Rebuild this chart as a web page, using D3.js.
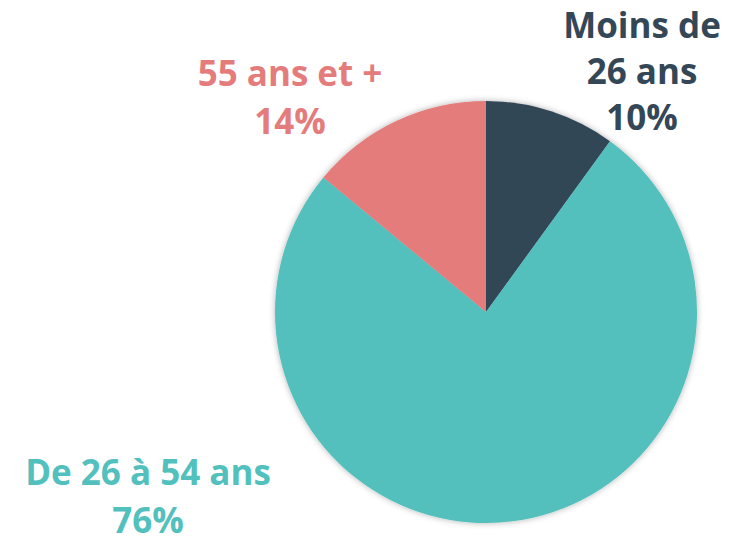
<!DOCTYPE html>
<html>
<head>
<meta charset="utf-8">
<script src="https://cdn.jsdelivr.net/npm/d3@7"></script>
<style>
  html, body { margin: 0; padding: 0; background: #fff; }
  svg { display: block; }
</style>
</head>
<body>
<svg id="chart" width="730" height="537"></svg>
<script>
const categories = ["Moins de 26 ans", "De 26 à 54 ans", "55 ans et +"];
const values = [10, 76, 14];
const colors = ["#334756", "#52C0BD", "#E57C7C"];
const labelLines = [["Moins de", "26 ans", "10%"], ["De 26 à 54 ans", "76%"], ["55 ans et +", "14%"]];
// label anchor (center x, first baseline y, line gap)
const labelPos = [[642, 38, 46], [148, 485, 48], [290, 86, 48]];

const svg = d3.select("#chart");
const cx = 486, cy = 312, r = 211;

const defs = svg.append("defs");
const f = defs.append("filter").attr("id", "shadow")
  .attr("x", "-20%").attr("y", "-20%").attr("width", "140%").attr("height", "140%");
f.append("feDropShadow").attr("dx", 0).attr("dy", 0).attr("stdDeviation", 3)
  .attr("flood-color", "#000").attr("flood-opacity", 0.3);

const pie = d3.pie().sort(null).value(d => d);
const arc = d3.arc().innerRadius(0).outerRadius(r);

const g = svg.append("g").attr("transform", `translate(${cx},${cy})`)
  .attr("filter", "url(#shadow)");

g.selectAll("path")
  .data(pie(values))
  .enter()
  .append("path")
  .attr("d", arc)
  .attr("fill", (d, i) => colors[i]);

labelLines.forEach((lines, i) => {
  const [lx, ly, gap] = labelPos[i];
  const t = svg.append("text")
    .attr("x", lx)
    .attr("y", ly)
    .attr("text-anchor", "middle")
    .attr("fill", colors[i])
    .style("font-family", "'Open Sans', sans-serif")
    .style("font-weight", "700")
    .style("font-size", "35px");
  lines.forEach((l, j) => {
    t.append("tspan")
      .attr("x", lx)
      .attr("y", ly + j * gap)
      .text(l);
  });
});
</script>
</body>
</html>
